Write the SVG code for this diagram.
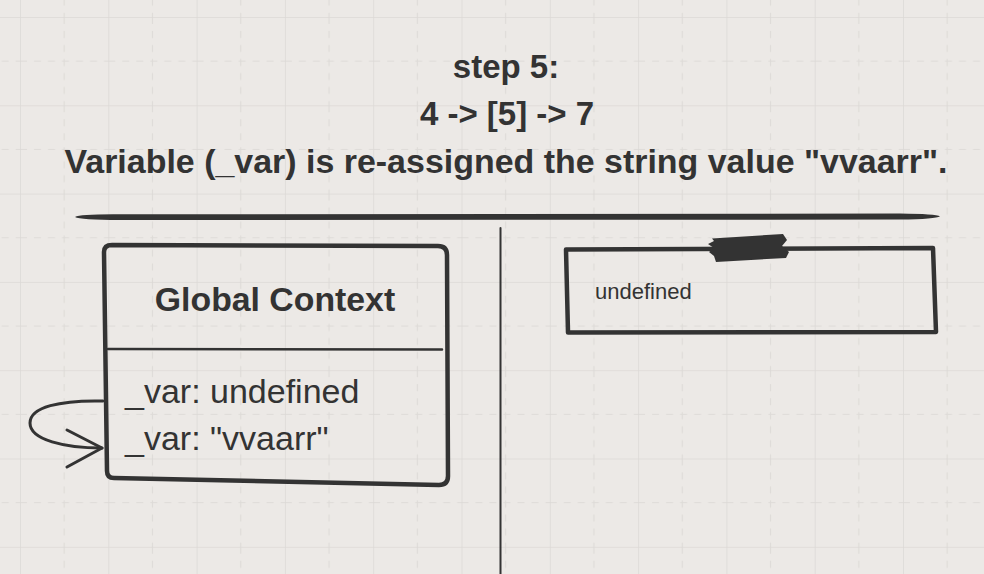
<svg xmlns="http://www.w3.org/2000/svg" width="984" height="574" viewBox="0 0 984 574">
<defs>
<style>
.bg{fill:#ece9e6}
.gs{stroke:#dcd9d6;stroke-width:1.5;fill:none}
.gd{stroke:#dedbd8;stroke-width:1.2;stroke-dasharray:7,7;fill:none}
.ink{stroke:#333333;fill:none;stroke-linecap:round;stroke-linejoin:round}
.t{font-family:"Liberation Sans",Arial,sans-serif;fill:#333333}
.title{font-size:33px;font-weight:bold;text-anchor:middle}
</style>
<pattern id="grid" x="20" y="17" width="88.3" height="88.3" patternUnits="userSpaceOnUse">
<line class="gd" x1="44.15" y1="0" x2="44.15" y2="88.3"/>
<line class="gd" x1="0" y1="44.15" x2="88.3" y2="44.15"/>
<line class="gs" x1="0" y1="0" x2="0" y2="88.3"/>
<line class="gs" x1="0" y1="0" x2="88.3" y2="0"/>
</pattern>
</defs>
<rect class="bg" x="0" y="0" width="984" height="574"/>
<rect x="0" y="0" width="984" height="574" fill="url(#grid)"/>

<g id="title">
<text class="t title" x="506" y="78">step 5:</text>
<text class="t title" x="507" y="125">4 -&gt; [5] -&gt; 7</text>
<text class="t title" x="506" y="173" textLength="883" lengthAdjust="spacingAndGlyphs">Variable (_var) is re-assigned the string value "vvaarr".</text>
</g>

<g id="divider">
<path d="M75,217 Q80,214 120,214.3 L900,213.6 Q936,214 940,216.3 Q936,219.2 900,219.6 L120,220 Q80,220 75,217 Z" fill="#333333"/>
<line class="ink" x1="500.5" y1="228" x2="500.5" y2="574" stroke-width="2"/>
</g>

<g id="global-context">
<path class="ink" stroke-width="4.5" d="M112,245 L438,246 Q447,246 447,255 L448,476 Q448,485 439,485 L114,478 Q107,478 107,471 L104,252 Q104,245 112,245 Z"/>
<line class="ink" x1="108" y1="349" x2="442" y2="349.5" stroke-width="2.5"/>
<text class="t" x="275" y="311" font-size="33.8" font-weight="bold" text-anchor="middle">Global Context</text>
<text class="t" x="125" y="403" font-size="34">_var: undefined</text>
<text class="t" x="125" y="450" font-size="34">_var: "vvaarr"</text>
</g>

<g id="memory-box">
<path class="ink" stroke-width="4.5" d="M566,249.5 L933,248 L936,332 L568,332.5 Z" stroke-linejoin="miter" stroke-linecap="butt"/>
<path d="M712,238.5 L783,234 L787,240 L782,246 L789,252 L786,258 L716,262 L714,256 L709,252 L714,248 L708,244 L714,241 Z" fill="#333333"/>
<text class="t" x="595" y="299" font-size="22">undefined</text>
</g>

<g id="connectors">
<path class="ink" stroke-width="3" d="M103,401 C60,400 30,407 30,423 C30,440 65,448 102,448"/>
<polyline class="ink" stroke-width="3" points="67,430 102,448 67,467"/>
</g>
</svg>
